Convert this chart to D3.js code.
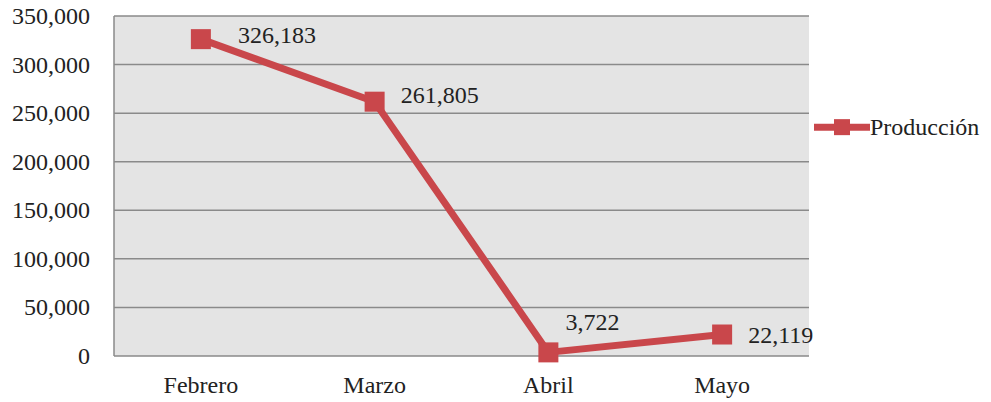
<!DOCTYPE html>
<html>
<head>
<meta charset="utf-8">
<script src="https://cdn.jsdelivr.net/npm/d3@7"></script>
<style>
body { margin: 0; background: #fff; }
</style>
</head>
<body>
<div id="chart"></div>
<script>
var months = ["Febrero", "Marzo", "Abril", "Mayo"];
var produccion = [326183, 261805, 3722, 22119];
var yTicks = [0, 50000, 100000, 150000, 200000, 250000, 300000, 350000];
var seriesName = "Producción";

var margin = {top: 16, right: 182, bottom: 46, left: 114},
width = 991 - margin.left - margin.right,
height = 402 - margin.top - margin.bottom;

var red = "#c9474b";
var serif = "'Liberation Serif', 'DejaVu Serif', 'Times New Roman', serif";
var fs = "24px";

var svg = d3.select("#chart")
.append("svg")
  .attr("width", 991)
  .attr("height", 402)
  .style("font-family", serif)
.append("g")
  .attr("transform", "translate(" + margin.left + "," + margin.top + ")");

var x = d3.scaleBand()
  .domain(months)
  .range([0, width]);

var y = d3.scaleLinear()
  .domain([0, 350000])
  .range([height, 0]);

var fmt = d3.format(",");

// plot background
svg.append("rect")
  .attr("width", width)
  .attr("height", height)
  .attr("fill", "#e4e4e4");

// gridlines
svg.selectAll("grid")
  .data(yTicks)
  .enter()
  .append("line")
    .attr("x1", 0)
    .attr("x2", width)
    .attr("y1", function(d){ return y(d) })
    .attr("y2", function(d){ return y(d) })
    .attr("stroke", "#8a8a8a")
    .attr("stroke-width", 1.5)

svg.append("line")
  .attr("x1", 0).attr("x2", 0)
  .attr("y1", 0).attr("y2", height)
  .attr("stroke", "#8a8a8a")
  .attr("stroke-width", 1.5)

// y labels
svg.selectAll("ylab")
  .data(yTicks)
  .enter()
  .append("text")
    .attr("x", -24)
    .attr("y", function(d){ return y(d) + 8 })
    .style("text-anchor", "end")
    .style("font-family", serif)
    .style("font-size", fs)
    .style("fill", "#222")
    .text(function(d){ return fmt(d) })

// x labels
svg.selectAll("xlab")
  .data(months)
  .enter()
  .append("text")
    .attr("x", function(d){ return x(d) + x.bandwidth() / 2 })
    .attr("y", height + 37)
    .style("text-anchor", "middle")
    .style("font-family", serif)
    .style("font-size", fs)
    .style("fill", "#222")
    .text(function(d){ return d })

var line = d3.line()
  .x(function(d, i){ return x(months[i]) + x.bandwidth() / 2 })
  .y(function(d){ return y(d) })

svg.append("path")
  .datum(produccion)
  .attr("d", line)
  .attr("fill", "none")
  .attr("stroke", red)
  .attr("stroke-width", 7)
  .attr("stroke-linejoin", "round")

var ms = 20;
svg.selectAll("marker")
  .data(produccion)
  .enter()
  .append("rect")
    .attr("x", function(d, i){ return x(months[i]) + x.bandwidth() / 2 - ms / 2 })
    .attr("y", function(d){ return y(d) - ms / 2 })
    .attr("width", ms)
    .attr("height", ms)
    .attr("fill", red)

// value labels, nudged like the original
var labelDx = [37, 26, 17, 26];
var labelDy = [4, 1, -22, 8];
svg.selectAll("vlab")
  .data(produccion)
  .enter()
  .append("text")
    .attr("x", function(d, i){ return x(months[i]) + x.bandwidth() / 2 + labelDx[i] })
    .attr("y", function(d, i){ return y(d) + labelDy[i] })
    .style("font-family", serif)
    .style("font-size", fs)
    .style("fill", "#222")
    .text(function(d){ return fmt(d) })

// legend
var lg = svg.append("g")
  .attr("transform", "translate(" + (width + 5) + "," + (y(250000) + 14) + ")");
lg.append("line")
  .attr("x1", 0).attr("x2", 56)
  .attr("stroke", red)
  .attr("stroke-width", 7)
lg.append("rect")
  .attr("x", 20).attr("y", -8)
  .attr("width", 16).attr("height", 16)
  .attr("fill", red)
lg.append("text")
  .attr("x", 56)
  .attr("y", 8)
  .style("font-family", serif)
  .style("font-size", fs)
  .style("fill", "#222")
  .text(seriesName)
</script>
</body>
</html>
